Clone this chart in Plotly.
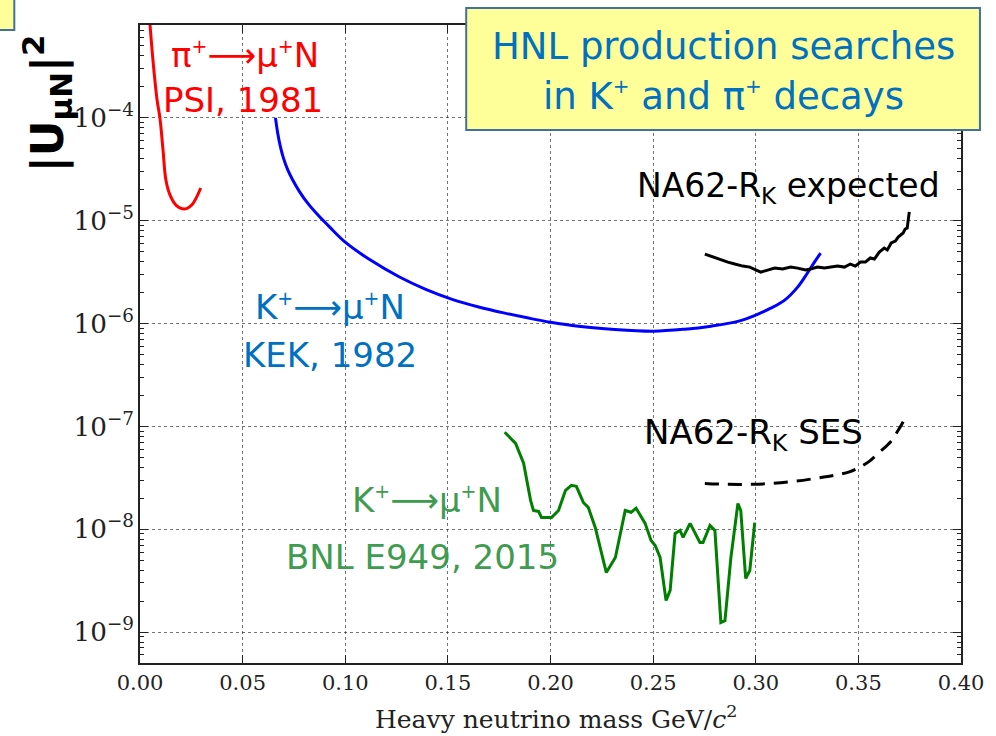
import math
import plotly.graph_objects as go

# ---- limits on |U_muN|^2 versus heavy neutrino mass (GeV/c^2) ----

# PSI 1981, pi+ -> mu+ N
psi_mass = [0.0045, 0.0063, 0.0083, 0.0097, 0.0112, 0.0126, 0.0146, 0.0175, 0.0218, 0.0252, 0.0296]
psi_u2 = [1.0e-3, 3.67e-4, 1.5e-4, 1.0e-4, 4.9e-5, 2.5e-5, 1.78e-5, 1.42e-5, 1.3e-5, 1.42e-5, 2.08e-5]

# KEK 1982, K+ -> mu+ N
kek_mass = [0.0660, 0.0671, 0.0684, 0.0699, 0.0720, 0.0744, 0.0777, 0.0817, 0.0866, 0.0922,
            0.1003, 0.1117, 0.1262, 0.1392, 0.1521, 0.1650, 0.1772, 0.1893, 0.2000, 0.2136,
            0.2296, 0.2500, 0.2655, 0.2782, 0.2913, 0.3000, 0.3073, 0.3141, 0.3204, 0.3252,
            0.3286, 0.3316]
kek_u2 = [1.0e-4, 7.10e-5, 5.26e-5, 4.06e-5, 3.12e-5, 2.49e-5, 1.92e-5, 1.48e-5, 1.14e-5, 8.75e-6,
          6.11e-6, 4.21e-6, 2.85e-6, 2.15e-6, 1.72e-6, 1.45e-6, 1.27e-6, 1.13e-6, 1.03e-6, 9.40e-7,
          8.81e-7, 8.43e-7, 8.81e-7, 9.43e-7, 1.05e-6, 1.21e-6, 1.41e-6, 1.69e-6, 2.26e-6, 3.10e-6,
          3.96e-6, 4.84e-6]

# BNL E949 2015, K+ -> mu+ N
bnl_mass = [0.1777, 0.1830, 0.1869, 0.1903, 0.1917, 0.1942, 0.1956, 0.2005, 0.2039, 0.2073,
            0.2102, 0.2126, 0.2160, 0.2184, 0.2218, 0.2272, 0.2316, 0.2364, 0.2393, 0.2417,
            0.2461, 0.2490, 0.2510, 0.2534, 0.2563, 0.2583, 0.2607, 0.2631, 0.2646, 0.2680,
            0.2728, 0.2743, 0.2777, 0.2801, 0.2830, 0.2850, 0.2879, 0.2913, 0.2927, 0.2951,
            0.2971, 0.2995]
bnl_u2 = [8.77e-8, 6.84e-8, 4.38e-8, 1.91e-8, 1.52e-8, 1.49e-8, 1.30e-8, 1.30e-8, 1.52e-8, 2.39e-8,
          2.67e-8, 2.61e-8, 1.82e-8, 1.63e-8, 1.04e-8, 3.79e-9, 5.31e-9, 1.52e-8, 1.46e-8, 1.60e-8,
          1.14e-8, 7.78e-9, 6.95e-9, 5.31e-9, 2.03e-9, 2.54e-9, 9.10e-9, 9.73e-9, 8.32e-9, 1.14e-8,
          7.43e-9, 7.43e-9, 1.09e-8, 9.73e-9, 1.24e-9, 1.29e-9, 5.31e-9, 1.78e-8, 1.52e-8, 3.32e-9,
          3.97e-9, 1.16e-8]

# NA62-R_K expected sensitivity
exp_mass = [0.2752, 0.2791, 0.2825, 0.2864, 0.2898, 0.2937, 0.2971, 0.3000, 0.3024, 0.3058,
            0.3092, 0.3131, 0.3170, 0.3204, 0.3243, 0.3267, 0.3301, 0.3335, 0.3364, 0.3398,
            0.3432, 0.3461, 0.3485, 0.3510, 0.3534, 0.3558, 0.3578, 0.3602, 0.3626, 0.3641,
            0.3660, 0.3680, 0.3694, 0.3709, 0.3718, 0.3728, 0.3738, 0.3748]
exp_u2 = [4.74e-6, 4.43e-6, 4.24e-6, 3.96e-6, 3.79e-6, 3.62e-6, 3.54e-6, 3.31e-6, 3.16e-6, 3.31e-6,
          3.46e-6, 3.39e-6, 3.54e-6, 3.46e-6, 3.31e-6, 3.39e-6, 3.54e-6, 3.46e-6, 3.54e-6, 3.62e-6,
          3.54e-6, 3.79e-6, 3.62e-6, 3.96e-6, 3.96e-6, 4.34e-6, 4.24e-6, 4.95e-6, 5.42e-6, 5.19e-6,
          6.07e-6, 6.34e-6, 6.93e-6, 7.41e-6, 7.59e-6, 8.30e-6, 8.49e-6, 1.22e-5]

# NA62-R_K single event sensitivity
ses_mass = [0.2752, 0.2864, 0.2976, 0.3083, 0.3189, 0.3291, 0.3383, 0.3456, 0.3505, 0.3553,
            0.3602, 0.3655, 0.3694, 0.3728]
ses_u2 = [2.79e-8, 2.73e-8, 2.73e-8, 2.79e-8, 2.92e-8, 3.12e-8, 3.34e-8, 3.61e-8, 4.00e-8, 4.57e-8,
          5.60e-8, 7.00e-8, 9.16e-8, 1.20e-7]

x_ticks = [0.00, 0.05, 0.10, 0.15, 0.20, 0.25, 0.30, 0.35, 0.40]
y_limits = [5e-10, 8e-4]

W, H = 996, 736
ML, MR, MT, MB = 140, 33, 25, 73


def px(x):
    return (x - ML) / (W - ML - MR)


def py(y):
    return (H - MB - y) / (H - MT - MB)


def sup(s, size):
    return f"<sup><span style='font-size:{size}px'>{s}</span></sup>"


fig = go.Figure()
fig.add_trace(go.Scatter(x=psi_mass, y=psi_u2, mode="lines", line=dict(color="#ff0000", width=3, shape="spline")))
fig.add_trace(go.Scatter(x=kek_mass, y=kek_u2, mode="lines", line=dict(color="#0000ff", width=3, shape="spline")))
fig.add_trace(go.Scatter(x=bnl_mass, y=bnl_u2, mode="lines", line=dict(color="#008000", width=3)))
fig.add_trace(go.Scatter(x=exp_mass, y=exp_u2, mode="lines", line=dict(color="#000000", width=3)))
fig.add_trace(go.Scatter(x=ses_mass, y=ses_u2, mode="lines",
                         line=dict(color="#000000", width=3, dash="14px,9px", shape="spline")))

axis_common = dict(
    showline=True, linecolor="#222222", linewidth=1.5, mirror="allticks",
    ticks="inside", ticklen=8, tickwidth=1.2, tickcolor="#222222",
    showgrid=True, gridcolor="rgba(40,40,40,0.65)", gridwidth=1, griddash="dot",
    zeroline=False,
    tickfont=dict(family="DejaVu Serif", size=21, color="#222222"),
)

fig.update_xaxes(range=[0, 0.4], tickvals=x_ticks, ticktext=[f"{v:.2f}" for v in x_ticks], **axis_common)
fig.update_yaxes(type="log", range=[math.log10(y_limits[0]), math.log10(y_limits[1])],
                 dtick=1, exponentformat="power",
                 minor=dict(ticks="inside", ticklen=4, tickwidth=1, tickcolor="#222222", showgrid=False),
                 **axis_common)

sans = "DejaVu Sans"
plus = sup("+", 19)
arrow = "⟶"
ann = [
    dict(text=f"π{plus}{arrow}μ{plus}N", x=px(245), y=py(55), color="#ff0000", size=34),
    dict(text="PSI, 1981", x=px(243), y=py(100), color="#ff0000", size=34),
    dict(text=f"K{plus}{arrow}μ{plus}N", x=px(330), y=py(307), color="#0070c0", size=34),
    dict(text="KEK, 1982", x=px(330), y=py(355), color="#0070c0", size=34),
    dict(text=f"K{plus}{arrow}μ{plus}N", x=px(428), y=py(500), color="#3f9b4f", size=34),
    dict(text="BNL E949, 2015", x=px(423), y=py(557), color="#3f9b4f", size=34),
    dict(text="NA62-R<sub>K</sub> expected", x=px(790), y=py(188), color="#000000", size=33),
    dict(text="NA62-R<sub>K</sub> SES", x=px(755), y=py(434), color="#000000", size=34),
    dict(text="HNL production searches", x=px(725), y=py(46), color="#0070c0", size=37),
    dict(text=f"in K{sup('+', 20)} and π{sup('+', 20)} decays", x=px(725), y=py(96), color="#0070c0", size=37),
]
for a in ann:
    fig.add_annotation(text=a["text"], x=a["x"], y=a["y"], xref="paper", yref="paper",
                       showarrow=False, xanchor="center", yanchor="middle",
                       font=dict(family=sans, size=a["size"], color=a["color"]))

# y-axis title
fig.add_annotation(text="<b>|U<sub>μN</sub>|<sup>2</sup></b>", x=px(47), y=py(103),
                   xref="paper", yref="paper", showarrow=False, textangle=-90,
                   xanchor="center", yanchor="middle",
                   font=dict(family=sans, size=44, color="#000000"))
# x-axis title
fig.add_annotation(text="Heavy neutrino mass GeV/<i>c</i><sup>2</sup>", x=px(557), y=py(717),
                   xref="paper", yref="paper", showarrow=False,
                   xanchor="center", yanchor="middle",
                   font=dict(family="DejaVu Serif", size=25, color="#222222"))

# yellow header box
fig.add_shape(type="rect", xref="paper", yref="paper", x0=px(467), x1=px(982), y0=py(130), y1=py(8),
              fillcolor="#ffff99", line=dict(color="#41719c", width=2), layer="above")
fig.add_shape(type="rect", xref="paper", yref="paper", x0=px(-5), x1=px(14), y0=py(30), y1=py(-5),
              fillcolor="#ffff99", line=dict(color="#41719c", width=2), layer="above")

fig.update_layout(
    width=W, height=H, margin=dict(l=ML, r=MR, t=MT, b=MB),
    paper_bgcolor="white", plot_bgcolor="white", showlegend=False,
)

fig.write_html("out.html")
